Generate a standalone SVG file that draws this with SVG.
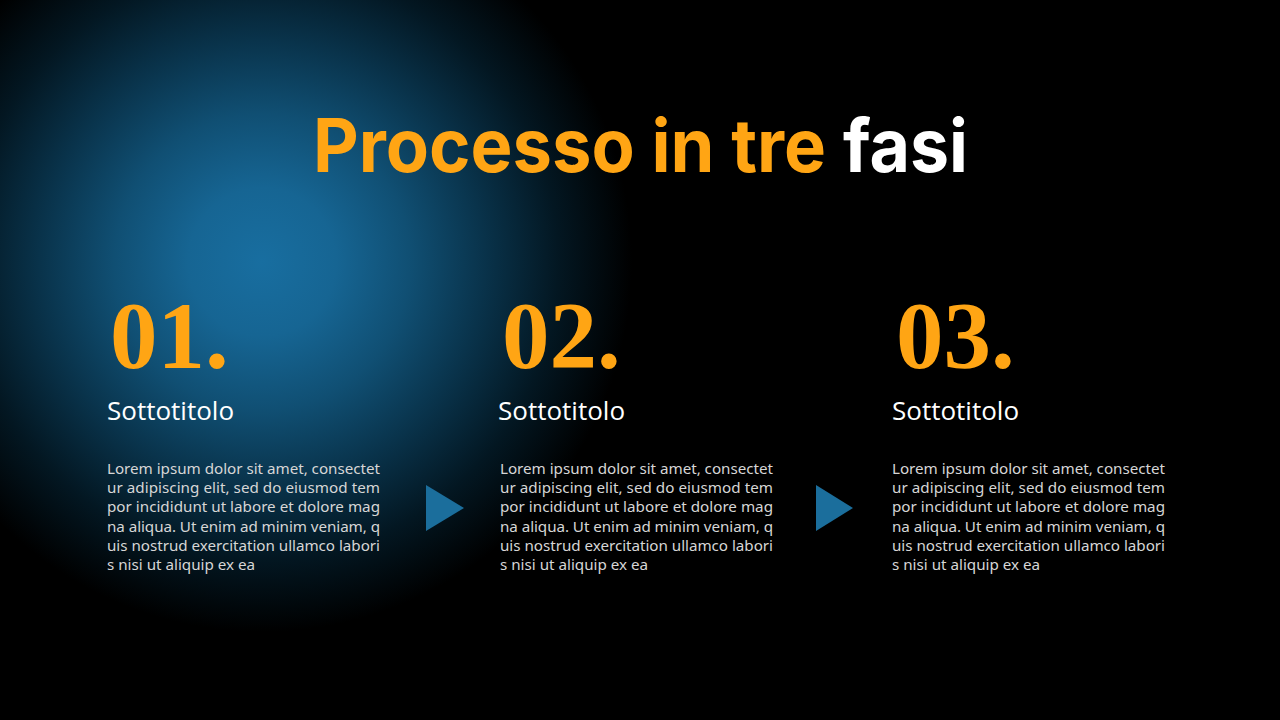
<svg xmlns="http://www.w3.org/2000/svg" width="1280" height="720" viewBox="0 0 1280 720">
<defs>
<radialGradient id="glow" cx="262" cy="262" r="370" gradientUnits="userSpaceOnUse">
<stop offset="0" stop-color="#186ea0"/>
<stop offset="0.2" stop-color="#166593"/>
<stop offset="0.4" stop-color="#104f73"/>
<stop offset="0.6" stop-color="#09334b"/>
<stop offset="0.8" stop-color="#031722"/>
<stop offset="1" stop-color="#000000"/>
</radialGradient>
<style>
.num{font-family:"Liberation Serif","DejaVu Serif",serif;font-weight:bold;font-size:95px;fill:#FFA514}
.sub{font-family:"Open Sans","Noto Sans",sans-serif;font-size:26px;fill:#ffffff}
.body{font-family:"Noto Sans","Open Sans",sans-serif;font-size:15.2px;fill:#d6d6d6}
.title{font-family:Inter,"Liberation Sans",sans-serif;font-weight:bold;font-size:74px}
.arrow{fill:#1b6e9c}
</style>
</defs>
<rect width="1280" height="720" fill="#000"/>
<rect width="1280" height="720" fill="url(#glow)"/>
<text class="title" x="313" y="172" fill="#FFA514" textLength="513" lengthAdjust="spacingAndGlyphs">Processo in tre</text>
<text class="title" x="843" y="172" fill="#ffffff" textLength="125" lengthAdjust="spacingAndGlyphs">fasi</text>
<g id="step1">
<text class="num" x="110" y="368">01.</text>
<text class="sub" x="107" y="420">Sottotitolo</text>
<text class="body"><tspan x="107" y="474" textLength="273">Lorem ipsum dolor sit amet, consectet</tspan><tspan x="107" y="493" textLength="273">ur adipiscing elit, sed do eiusmod tem</tspan><tspan x="107" y="512" textLength="273">por incididunt ut labore et dolore mag</tspan><tspan x="107" y="532" textLength="273">na aliqua. Ut enim ad minim veniam, q</tspan><tspan x="107" y="551" textLength="273">uis nostrud exercitation ullamco labori</tspan><tspan x="107" y="570">s nisi ut aliquip ex ea</tspan></text>
</g>
<g id="step2">
<text class="num" x="502" y="368">02.</text>
<text class="sub" x="498" y="420">Sottotitolo</text>
<text class="body"><tspan x="500" y="474" textLength="273">Lorem ipsum dolor sit amet, consectet</tspan><tspan x="500" y="493" textLength="273">ur adipiscing elit, sed do eiusmod tem</tspan><tspan x="500" y="512" textLength="273">por incididunt ut labore et dolore mag</tspan><tspan x="500" y="532" textLength="273">na aliqua. Ut enim ad minim veniam, q</tspan><tspan x="500" y="551" textLength="273">uis nostrud exercitation ullamco labori</tspan><tspan x="500" y="570">s nisi ut aliquip ex ea</tspan></text>
</g>
<g id="step3">
<text class="num" x="896" y="368">03.</text>
<text class="sub" x="892" y="420">Sottotitolo</text>
<text class="body"><tspan x="892" y="474" textLength="273">Lorem ipsum dolor sit amet, consectet</tspan><tspan x="892" y="493" textLength="273">ur adipiscing elit, sed do eiusmod tem</tspan><tspan x="892" y="512" textLength="273">por incididunt ut labore et dolore mag</tspan><tspan x="892" y="532" textLength="273">na aliqua. Ut enim ad minim veniam, q</tspan><tspan x="892" y="551" textLength="273">uis nostrud exercitation ullamco labori</tspan><tspan x="892" y="570">s nisi ut aliquip ex ea</tspan></text>
</g>
<g id="connectors">
<polygon class="arrow" points="426,485 464,508 426,531"/>
<polygon class="arrow" points="816,485 853,508 816,531"/>
</g>
</svg>
